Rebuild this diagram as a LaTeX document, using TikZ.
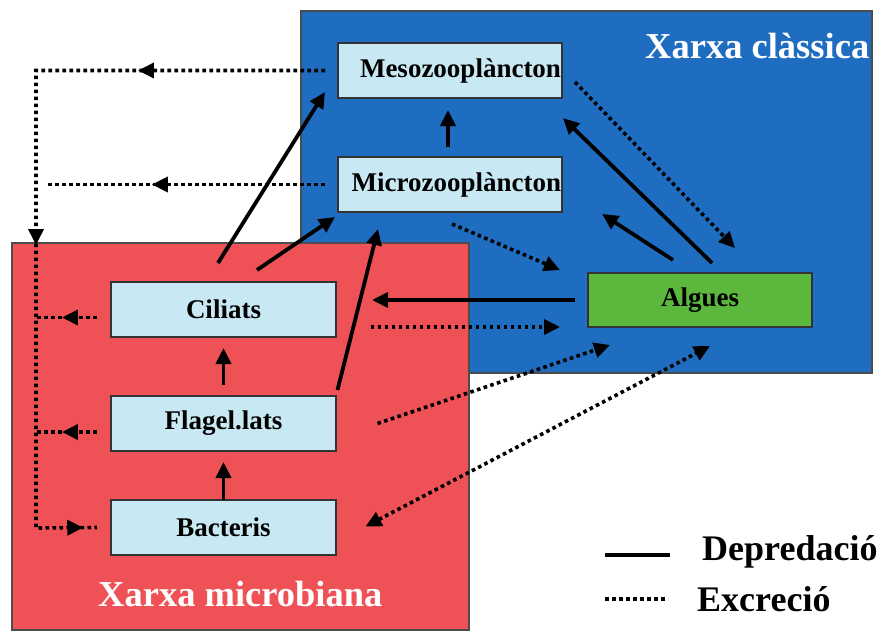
\documentclass[tikz,border=0pt]{standalone}
\usepackage{fontspec}
\setmainfont{Liberation Serif}
\usetikzlibrary{arrows.meta,positioning,calc,decorations.markings}
\definecolor{classicblue}{RGB}{31,109,192}
\definecolor{microred}{RGB}{238,82,87}
\definecolor{boxblue}{RGB}{200,233,243}
\definecolor{alggreen}{RGB}{92,184,60}

\begin{document}
\begin{tikzpicture}[
    x=1pt, y=-1pt,
    >={Triangle[length=16pt,width=15pt]},
    font=\bfseries,
    taxon/.style={
        rectangle,
        draw=black!80,
        line width=1.2pt,
        fill=boxblue,
        minimum width=224pt,
        minimum height=55pt,
        inner sep=0pt,
        outer sep=0pt,
        font=\bfseries\fontsize{27}{30}\selectfont
    },
    zoo/.style={
        taxon,
        text width=222pt,
        align=right,
        inner xsep=1pt
    },
    xarxa/.style={
        line width=1.2pt,
        draw=black!70
    },
    title/.style={
        anchor=base west,
        inner sep=0pt,
        text=white,
        font=\bfseries\fontsize{36.5}{40}\selectfont
    },
    legend/.style={
        anchor=base west,
        inner sep=0pt,
        font=\bfseries\fontsize{36}{40}\selectfont
    },
    pred/.style={->, line width=3.8pt},
    excrline/.style={line width=3.6pt, dash pattern=on 3.6pt off 3.4pt},
    excr/.style={excrline, ->},
    tipat/.style={
        excrline,
        postaction={decorate},
        decoration={markings, mark=at position #1 with {\arrow{>}}}
    }
  ]
  \useasboundingbox (0,0) rectangle (890,632);

  % the two food webs
  \filldraw [xarxa, fill=classicblue] (301,11) rectangle (872,373);
  \filldraw [xarxa, fill=microred] (12,243) rectangle (469,630);
  \node [title] (classica) at (645,58) {Xarxa clàssica};
  \node [title] (microbiana) at (98,606) {Xarxa microbiana};

  % We start by placing the blocks
  \node [zoo] (meso) at (450,70.5) {Mesozooplàncton};
  \node [zoo, below=59pt of meso] (micro) {Microzooplàncton};
  \node [taxon, fill=alggreen, minimum height=54pt] (alg) at (700,300) {Algues};
  \node [taxon, minimum width=225pt] (cil) at (223.5,309.5) {Ciliats};
  \node [taxon, minimum width=225pt, below=59pt of cil] (flag) {Flagel.lats};
  \node [taxon, minimum width=225pt, below=49pt of flag] (bact) {Bacteris};

  \coordinate (topleft) at (36,70.5);
  \coordinate (botleft) at (36,528);

  % depredacio
  \draw [pred] ($(micro.north)+(-2,-10)$) -- ($(meso.south)+(-2,12)$);
  \draw [pred] ($(cil.north)+(-5.5,-19)$) -- ($(meso.south west)+(-13,-6)$);
  \draw [pred] ($(cil.north)+(33.5,-12)$) -- ($(micro.south west)+(-3,5)$);
  \draw [pred] ($(flag.north east)+(1.5,-6)$) -- ($(micro.south west)+(40,17)$);
  \draw [pred] ($(alg.west)+(-13,0)$) -- ($(cil.east)+(36,-9.5)$);
  \draw [pred] ($(alg.north)+(-27,-13)$) -- ($(micro.south east)+(40,2)$);
  \draw [pred] ($(alg.north)+(12,-10)$) -- ($(meso.south east)+(1,20)$);
  \draw [pred] ($(flag.north)+(0,-11)$) -- ($(cil.south)+(0,11)$);
  \draw [pred] (bact.north) -- ($(flag.south)+(0,11)$);

  % excrecio
  \draw [excrline, postaction={decorate}, decoration={markings,
      mark=at position 0.2316 with {\arrow{>}},
      mark=at position 0.574 with {\arrow{>}},
      mark=at position 0.983 with {\arrow{>}}}]
    ($(meso.west)+(-13,0)$) -- (topleft) -- (botleft) -- ($(bact.west)+(-14,0)$);
  \draw [tipat=0.625] ($(micro.west)+(-13,0)$) -- ($(micro.west -| topleft)+(12,0)$);
  \draw [tipat=0.574] ($(cil.west)+(-14,8)$) -- ($(cil.west -| topleft)+(0,8)$);
  \draw [tipat=0.574] ($(flag.west)+(-14,8.5)$) -- ($(flag.west -| topleft)+(0,8.5)$);
  \draw [excr] ($(meso.east)+(13,11.5)$) -- ($(alg.north)+(35,-25)$);
  \draw [excr] ($(micro.south)+(2,12)$) -- ($(alg.west)+(-28,-30)$);
  \draw [excr] ($(cil.east)+(34.5,17.5)$) -- ($(alg.south west)+(-28,0)$);
  \draw [excr] ($(flag.east)+(41.5,0)$) -- ($(alg.south west)+(22,18)$);
  \draw [excr, <->] ($(bact.east)+(29.5,-1)$) -- ($(alg.south)+(10,19)$);

  % legend
  \node [legend] (dep) at (702,560) {Depredació};
  \node [legend] (exc) at (697,611) {Excreció};
  \draw [line width=3.8pt] ($(dep.base west)+(-97,-5)$) -- ($(dep.base west)+(-32,-5)$);
  \draw [excrline] ($(exc.base west)+(-92,-12)$) -- ($(exc.base west)+(-29,-12)$);

\end{tikzpicture}
\end{document}
